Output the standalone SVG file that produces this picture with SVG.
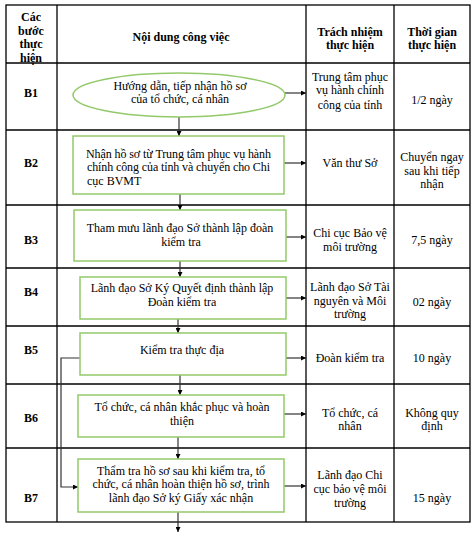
<svg xmlns="http://www.w3.org/2000/svg" width="476" height="536" viewBox="0 0 476 536">
<defs>
<marker id="ah" viewBox="0 0 10 10" refX="10" refY="5" markerWidth="5" markerHeight="5" orient="auto" markerUnits="userSpaceOnUse"><path d="M0,0 L10,5 L0,10 z" fill="#000"/></marker>
</defs>
<style>
text{font-family:"Liberation Serif","Times New Roman",serif;font-size:12px;fill:#000}
.b{font-weight:bold}
.c{text-anchor:middle}
.grid{stroke:#000;stroke-width:1.3;fill:none}
.box{fill:#fff;stroke:#93c96a;stroke-width:1.5}
.con{stroke:#333;stroke-width:1.2;fill:none;marker-end:url(#ah)}
</style>
<rect width="476" height="536" fill="#fff"/>
<g id="table">
<rect class="grid" x="6" y="5" width="464" height="517"/>
<line class="grid" x1="57" y1="5" x2="57" y2="522"/>
<line class="grid" x1="306" y1="5" x2="306" y2="522"/>
<line class="grid" x1="394" y1="5" x2="394" y2="522"/>
<line class="grid" x1="6" y1="63" x2="470" y2="63"/>
<line class="grid" x1="6" y1="130" x2="470" y2="130"/>
<line class="grid" x1="6" y1="205" x2="470" y2="205"/>
<line class="grid" x1="6" y1="268" x2="470" y2="268"/>
<line class="grid" x1="6" y1="326" x2="470" y2="326"/>
<line class="grid" x1="6" y1="384" x2="470" y2="384"/>
<line class="grid" x1="6" y1="448" x2="470" y2="448"/>
</g>
<g id="header">
<text class="b c" x="31" y="21">Các</text>
<text class="b c" x="31" y="35">bước</text>
<text class="b c" x="31" y="48">thực</text>
<text class="b c" x="31" y="62">hiện</text>
<text class="b c" x="181" y="41">Nội dung công việc</text>
<text class="b c" x="350" y="36">Trách nhiệm</text>
<text class="b c" x="350" y="49">thực hiện</text>
<text class="b c" x="432" y="36">Thời gian</text>
<text class="b c" x="432" y="49">thực hiện</text>
</g>
<g id="steps">
<text class="b c" x="31" y="97">B1</text>
<text class="b c" x="31" y="167">B2</text>
<text class="b c" x="31" y="244">B3</text>
<text class="b c" x="31" y="296">B4</text>
<text class="b c" x="31" y="354">B5</text>
<text class="b c" x="31" y="422">B6</text>
<text class="b c" x="31" y="502">B7</text>
</g>
<g id="connectors">
<line class="con" x1="179" y1="117" x2="179" y2="136"/>
<line class="con" x1="180" y1="194" x2="180" y2="210"/>
<line class="con" x1="180" y1="261" x2="180" y2="277"/>
<line class="con" x1="178" y1="319" x2="178" y2="333"/>
<line class="con" x1="180" y1="375" x2="180" y2="395"/>
<line class="con" x1="178" y1="437" x2="178" y2="459"/>
<line class="con" x1="178" y1="512" x2="178" y2="532"/>
<polyline class="con" points="80,358 61,358 61,487 78,487"/>
<line class="con" x1="285" y1="93" x2="306" y2="93"/>
<line class="con" x1="284" y1="163" x2="306" y2="163"/>
<line class="con" x1="286" y1="237" x2="306" y2="237"/>
<line class="con" x1="286" y1="298" x2="306" y2="298"/>
<line class="con" x1="286" y1="358" x2="306" y2="358"/>
<line class="con" x1="284" y1="414" x2="306" y2="414"/>
<line class="con" x1="284" y1="486" x2="306" y2="486"/>
</g>
<g id="n1">
<ellipse class="box" cx="179" cy="95" rx="106" ry="22"/>
<text class="c" x="180" y="90">Hướng dẫn, tiếp nhận hồ sơ</text>
<text class="c" x="180" y="103">của tổ chức, cá nhân</text>
</g>
<g id="n2">
<rect class="box" x="73" y="136" width="211" height="58"/>
<text x="86" y="158" textLength="185" lengthAdjust="spacing">Nhận hồ sơ từ Trung tâm phục vụ hành</text>
<text x="87" y="171" textLength="183" lengthAdjust="spacing">chính công của tỉnh và chuyển cho Chi</text>
<text x="87" y="185">cục BVMT</text>
</g>
<g id="n3">
<rect class="box" x="74" y="210" width="212" height="51"/>
<text class="c" x="180" y="232">Tham mưu lãnh đạo Sở thành lập đoàn</text>
<text class="c" x="181" y="246">kiểm tra</text>
</g>
<g id="n4">
<rect class="box" x="80" y="277" width="206" height="42"/>
<text class="c" x="182" y="292">Lãnh đạo Sở Ký Quyết định thành lập</text>
<text class="c" x="182" y="306">Đoàn kiểm tra</text>
</g>
<g id="n5">
<rect class="box" x="80" y="333" width="206" height="42"/>
<text class="c" x="182" y="354">Kiểm tra thực địa</text>
</g>
<g id="n6">
<rect class="box" x="78" y="395" width="206" height="42"/>
<text class="c" x="182" y="411">Tổ chức, cá nhân khắc phục và hoàn</text>
<text class="c" x="182" y="425">thiện</text>
</g>
<g id="n7">
<rect class="box" x="78" y="459" width="206" height="53"/>
<text class="c" x="181" y="475">Thẩm tra hồ sơ sau khi kiểm tra, tổ</text>
<text class="c" x="181" y="488">chức, cá nhân hoàn thiện hồ sơ, trình</text>
<text class="c" x="181" y="502">lãnh đạo Sở ký Giấy xác nhận</text>
</g>
<g id="resp">
<text class="c" x="350" y="81">Trung tâm phục</text>
<text class="c" x="350" y="94">vụ hành chính</text>
<text class="c" x="350" y="109">công của tỉnh</text>
<text class="c" x="350" y="167">Văn thư Sở</text>
<text class="c" x="350" y="237">Chi cục Bảo vệ</text>
<text class="c" x="350" y="251">môi trường</text>
<text class="c" x="350" y="291">Lãnh đạo Sở Tài</text>
<text class="c" x="350" y="305">nguyên và Môi</text>
<text class="c" x="350" y="318">trường</text>
<text class="c" x="350" y="362">Đoàn kiểm tra</text>
<text class="c" x="350" y="417">Tổ chức, cá</text>
<text class="c" x="350" y="430">nhân</text>
<text class="c" x="350" y="479">Lãnh đạo Chi</text>
<text class="c" x="350" y="493">cục bảo vệ môi</text>
<text class="c" x="350" y="507">trường</text>
</g>
<g id="time">
<text class="c" x="432" y="104">1/2 ngày</text>
<text class="c" x="432" y="161">Chuyển ngay</text>
<text class="c" x="432" y="175">sau khi tiếp</text>
<text class="c" x="432" y="188">nhận</text>
<text class="c" x="432" y="244">7,5 ngày</text>
<text class="c" x="432" y="306">02 ngày</text>
<text class="c" x="432" y="362">10 ngày</text>
<text class="c" x="432" y="417">Không quy</text>
<text class="c" x="432" y="430">định</text>
<text class="c" x="432" y="502">15 ngày</text>
</g>
</svg>
